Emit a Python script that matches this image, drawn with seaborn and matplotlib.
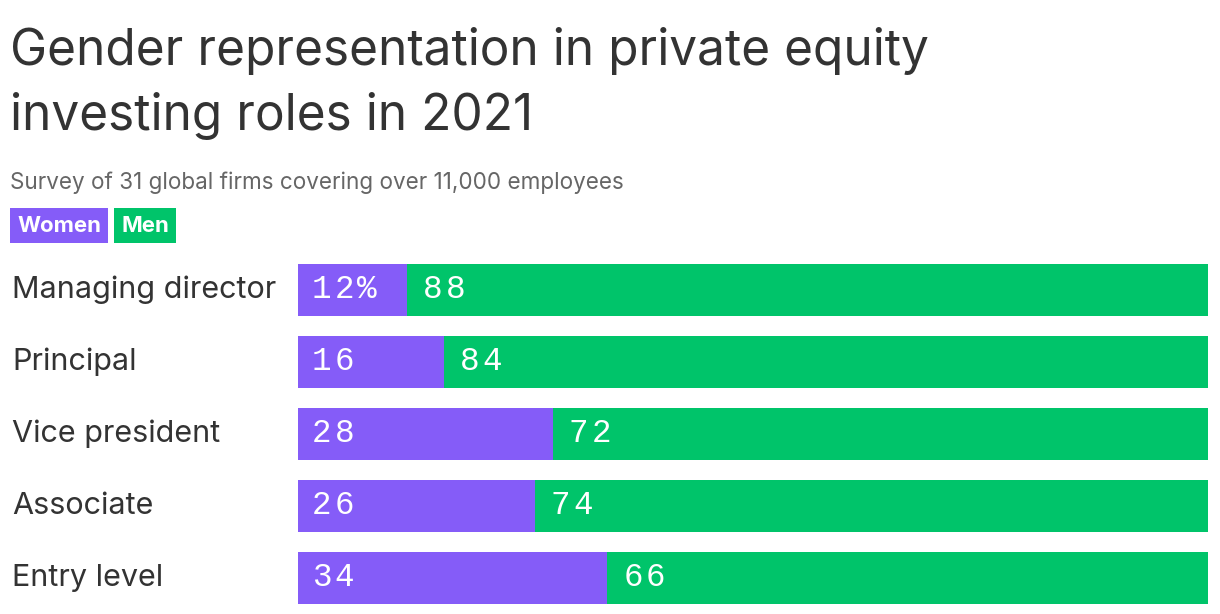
import matplotlib
matplotlib.use("Agg")
import matplotlib.pyplot as plt
import matplotlib.transforms as mtransforms
from matplotlib.patches import Rectangle
import seaborn as sns
import pandas as pd

roles = ["Managing director", "Principal", "Vice president", "Associate", "Entry level"]
women = [12, 16, 28, 26, 34]
men = [88, 84, 72, 74, 66]
legend_labels = ["Women", "Men"]

PURPLE = "#855CF8"
GREEN = "#00C46A"
DARK = "#333333"

sns.set_theme(style="white")
plt.rcParams["font.family"] = ["Inter", "DejaVu Sans"]

df = pd.DataFrame({"role": roles, "women": women, "men": men})
df["total"] = df["women"] + df["men"]

W, H = 1220, 614
fig = plt.figure(figsize=(W / 100, H / 100), dpi=100)
ax = fig.add_axes([298 / W, 0, (1208 - 298) / W, 360 / H])

sns.barplot(data=df, y="role", x="total", color=GREEN, width=52 / 72, ax=ax,
            saturation=1, orient="h", linewidth=0)
sns.barplot(data=df, y="role", x="women", color=PURPLE, width=52 / 72, ax=ax,
            saturation=1, orient="h", linewidth=0)

ax.set_xlim(0, 100)
ax.set_ylim(4.5, -0.5)
ax.set_xlabel("")
ax.set_ylabel("")
ax.set_xticks([])
ax.set_yticks([])
for s in ax.spines.values():
    s.set_visible(False)

px = 100 / (1208 - 298)  # data units per pixel
trans = mtransforms.blended_transform_factory(fig.transFigure, ax.transData)
mono = ["Liberation Mono", "DejaVu Sans Mono"]
ADV = 22.5 * 72 / 100  # character advance in points


def spaced(x, y, s):
    for k, ch in enumerate(s):
        t = mtransforms.offset_copy(ax.transData, fig=fig, x=k * ADV, y=0,
                                    units="points")
        ax.text(x, y, ch, transform=t, ha="left", va="center", fontsize=23.5,
                color="white", family=mono)


for i, (r, w, m) in enumerate(zip(roles, women, men)):
    ax.text(12 / W, i, r, transform=trans, ha="left", va="center",
            fontsize=22, color=DARK)
    wl = f"{w}%" if i == 0 else f"{w}"
    spaced(14 * px, i, wl)
    spaced(w + 16 * px, i, f"{m}")

fig.text(10 / W, 1 - 65 / H, "Gender representation in private equity",
         fontsize=35.7, color=DARK, ha="left", va="baseline")
fig.text(10 / W, 1 - 130 / H, "investing roles in 2021",
         fontsize=35.7, color=DARK, ha="left", va="baseline")
fig.text(10 / W, 1 - 189 / H,
         "Survey of 31 global firms covering over 11,000 employees",
         fontsize=16.2, color="#666666", ha="left", va="baseline")

boxes = [(10, 108, PURPLE), (114, 176, GREEN)]
for lab, (x0, x1, c) in zip(legend_labels, boxes):
    fig.add_artist(Rectangle((x0 / W, 1 - 243 / H), (x1 - x0) / W, 35 / H,
                             transform=fig.transFigure, fc=c, ec="none"))
    fig.text((x0 + x1) / 2 / W, 1 - 225.5 / H, lab, fontsize=16,
             fontweight="bold", color="white", ha="center", va="center")

fig.savefig("out.png", dpi=100)
